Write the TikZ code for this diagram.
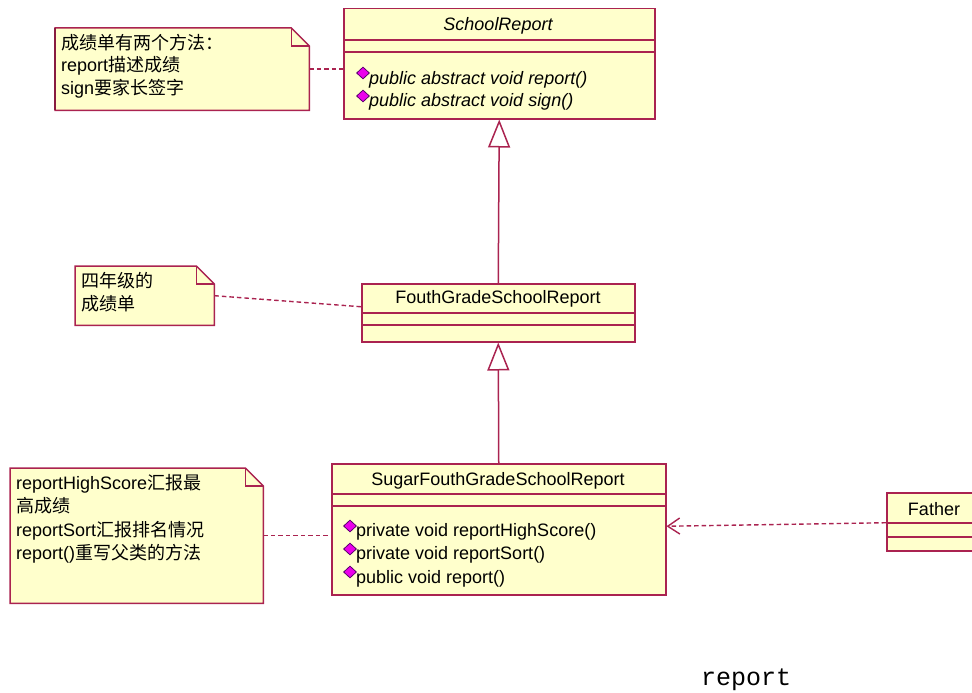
\documentclass[tikz,border=0pt]{standalone}
\usepackage{fontspec}
\setmainfont{Liberation Sans}
\newfontfamily\cjk{Noto Sans CJK SC}
\newfontfamily\monofnt{Liberation Mono}
\usetikzlibrary{arrows.meta,shapes.geometric}
\definecolor{umlred}{RGB}{170,35,80}
\definecolor{umlfill}{RGB}{255,255,204}
\definecolor{diamfill}{RGB}{235,0,235}
\definecolor{diamdraw}{RGB}{90,0,110}
\newcommand\notebox[1]{%
  \draw[umlred,fill=umlfill,line width=1.5pt] (#1.south west) -- (#1.north west) -- ([xshift=-18pt]#1.north east) -- ([yshift=-18pt]#1.north east) -- (#1.south east) -- cycle;
  \draw[umlred,line width=1.5pt] ([xshift=-18pt]#1.north east) |- ([yshift=-18pt]#1.north east);}
\begin{document}
\begin{tikzpicture}[x=1pt,y=-1pt,
  cls/.style={draw=umlred,fill=umlfill,line width=1.5pt,anchor=north west,inner sep=0pt},
  notebg/.style={inner sep=0pt,anchor=north west},
  divline/.style={draw=umlred,line width=1.5pt},
  txt/.style={inner sep=0pt,text height=13pt,text depth=4pt,font=\fontsize{18}{20}\selectfont},
  ltxt/.style={txt,anchor=west},
  itxt/.style={ltxt,font=\fontsize{18}{20}\selectfont\itshape},
  dia/.style={diamond,draw=diamdraw,fill=diamfill,line width=0.8pt,minimum width=13pt,minimum height=12pt,inner sep=0pt},
  dep/.style={draw=umlred,line width=1.4pt,dash pattern=on 4.5pt off 3pt},
  inh/.style={draw=umlred,line width=1.5pt,-{Triangle[open,length=28pt,width=22pt]}}]
\useasboundingbox (0,0) rectangle (972,693);
\clip (0,0) rectangle (972,693);

% ---- SchoolReport
\node[cls,minimum width=311pt,minimum height=110pt] (sr) at (343,8) {};
\draw[divline] ([yshift=-32pt]sr.north west) -- ([yshift=-32pt]sr.north east);
\draw[divline] ([yshift=-44pt]sr.north west) -- ([yshift=-44pt]sr.north east);
\node[txt,font=\fontsize{18}{20}\selectfont\itshape] (srname) at (498,26) {SchoolReport};
\node[dia] (srd1) at (363,73) {};
\node[itxt] (srm1) at (369,80) {public abstract void report()};
\node[dia] (srd2) at (363,96) {};
\node[itxt] (srm2) at (369,102) {public abstract void sign()};

% ---- FouthGradeSchoolReport
\node[cls,minimum width=273pt,minimum height=58pt] (fg) at (361,283) {};
\draw[divline] ([yshift=-30pt]fg.north west) -- ([yshift=-30pt]fg.north east);
\draw[divline] ([yshift=-42pt]fg.north west) -- ([yshift=-42pt]fg.north east);
\node[txt] (fgname) at (498,299) {FouthGradeSchoolReport};

% ---- SugarFouthGradeSchoolReport
\node[cls,minimum width=334pt,minimum height=131pt] (sg) at (331,463) {};
\draw[divline] ([yshift=-31pt]sg.north west) -- ([yshift=-31pt]sg.north east);
\draw[divline] ([yshift=-43pt]sg.north west) -- ([yshift=-43pt]sg.north east);
\node[txt] (sgname) at (498,481) {SugarFouthGradeSchoolReport};
\node[dia] (sgd1) at (350,526) {};
\node[ltxt] (sgm1) at (356,532) {private void reportHighScore()};
\node[dia] (sgd2) at (350,549) {};
\node[ltxt] (sgm2) at (356,555) {private void reportSort()};
\node[dia] (sgd3) at (350,572) {};
\node[ltxt] (sgm3) at (356,579) {public void report()};

% ---- Father
\node[cls,minimum width=100pt,minimum height=58pt] (fa) at (886,492) {};
\draw[divline] ([yshift=-31pt]fa.north west) -- ([yshift=-31pt]fa.north east);
\draw[divline] ([yshift=-45pt]fa.north west) -- ([yshift=-45pt]fa.north east);
\node[txt] (faname) at (934,511) {Father};

% ---- Notes
\node[notebg,minimum width=254pt,minimum height=82pt] (n1) at (55,28) {};
\notebox{n1}
\draw[umlred!80!black,line width=2.2pt] (n1.south west) -- (n1.north west);
\node[ltxt] (n1a) at (61,45) {\cjk 成绩单有两个方法：};
\node[ltxt] (n1b) at (61,67) {report{\cjk 描述成绩}};
\node[ltxt] (n1c) at (61,90) {sign{\cjk 要家长签字}};

\node[notebg,minimum width=139pt,minimum height=59pt] (n2) at (75,266) {};
\notebox{n2}
\node[ltxt] (n2a) at (81,283) {\cjk 四年级的};
\node[ltxt] (n2b) at (81,306) {\cjk 成绩单};

\node[notebg,minimum width=253pt,minimum height=135pt] (n3) at (10,468) {};
\notebox{n3}
\node[ltxt] (n3a) at (16,485) {reportHighScore{\cjk 汇报最}};
\node[ltxt] (n3b) at (16,508) {\cjk 高成绩};
\node[ltxt] (n3c) at (16,532) {reportSort{\cjk 汇报排名情况}};
\node[ltxt] (n3d) at (16,555) {report(){\cjk 重写父类的方法}};

% ---- Connectors
\draw[dep] (n1.east) -- (n1.east -| sr.west);
\draw[dep] (n2.east) -- ([yshift=6pt]fg.west);
\draw[dep] ([yshift=0.5pt]n3.east) -- ([yshift=0.5pt]n3.east -| sg.west);
\draw[inh] (fg.north) -- (sr.south);
\draw[inh] (sg.north) -- (fg.south);
\draw[dep,-{Straight Barb[length=12pt,width=16pt]}] ([yshift=-1pt]fa.west) -- ([yshift=3pt]sg.east);

% ---- bottom text
\node[inner sep=0pt,font=\monofnt\fontsize{25}{28}\selectfont] (rep) at (746,680) {report};
\end{tikzpicture}
\end{document}
